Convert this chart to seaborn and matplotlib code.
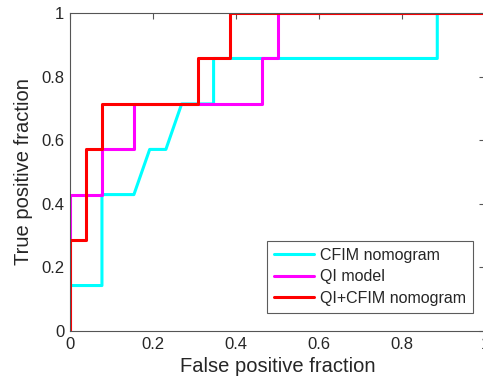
import pandas as pd
import numpy as np
import matplotlib.pyplot as plt
import seaborn as sns

# ROC curve points (false positive fraction, true positive fraction)
cfim_fpf = [0.0, 0.0, 0.077, 0.077, 0.154, 0.192, 0.231, 0.269, 0.346, 0.346, 0.885, 0.885, 1.0]
cfim_tpf = [0.0, 0.143, 0.143, 0.429, 0.429, 0.571, 0.571, 0.714, 0.714, 0.857, 0.857, 1.0, 1.0]

qi_fpf = [0.0, 0.0, 0.077, 0.077, 0.154, 0.154, 0.462, 0.462, 0.5, 0.5, 1.0]
qi_tpf = [0.0, 0.429, 0.429, 0.571, 0.571, 0.714, 0.714, 0.857, 0.857, 1.0, 1.0]

comb_fpf = [0.0, 0.0, 0.038, 0.038, 0.077, 0.077, 0.308, 0.308, 0.385, 0.385, 1.0]
comb_tpf = [0.0, 0.286, 0.286, 0.571, 0.571, 0.714, 0.714, 0.857, 0.857, 1.0, 1.0]

labels = ["CFIM nomogram", "QI model", "QI+CFIM nomogram"]
colors = ["#00ffff", "#ff00ff", "#ff0000"]

frames = []
for name, fx, ty in zip(labels, [cfim_fpf, qi_fpf, comb_fpf], [cfim_tpf, qi_tpf, comb_tpf]):
    frames.append(pd.DataFrame({"fpf": fx, "tpf": ty, "model": name, "order": np.arange(len(fx))}))
df = pd.concat(frames, ignore_index=True)

sns.set_style("white")
plt.rcParams["font.family"] = ["Liberation Sans", "DejaVu Sans"]

fig = plt.figure(figsize=(4.83, 3.87), dpi=100)
ax = fig.add_axes([70 / 483, 56 / 387, 415 / 483, 318 / 387])

sns.lineplot(
    data=df, x="fpf", y="tpf", hue="model", hue_order=labels,
    palette=colors, sort=False, estimator=None, units="model",
    linewidth=2.2, ax=ax, legend=True,
)

ax.set_xlim(0, 1)
ax.set_ylim(0, 1)
ticks = [0, 0.2, 0.4, 0.6, 0.8, 1]
ticklabels = ["0", "0.2", "0.4", "0.6", "0.8", "1"]
ax.set_xticks(ticks)
ax.set_xticklabels(ticklabels)
ax.set_yticks(ticks)
ax.set_yticklabels(ticklabels)
ax.tick_params(direction="in", length=4, width=0.8, color="#555555",
               top=True, right=True, labelsize=12, pad=4)
for s in ax.spines.values():
    s.set_color("#555555")
    s.set_linewidth(0.8)

ax.set_xlabel("False positive fraction", fontsize=14.5, labelpad=4)
ax.set_ylabel("True positive fraction", fontsize=14.5, labelpad=6)

leg = ax.legend(loc="lower right", bbox_to_anchor=(0.971, 0.057), fontsize=11.5,
                frameon=True, fancybox=False, handlelength=2.5,
                borderpad=0.45, labelspacing=0.4, handletextpad=0.35, borderaxespad=0)
leg.get_frame().set_edgecolor("#333333")
leg.get_frame().set_linewidth(0.8)
for line in leg.get_lines():
    line.set_linewidth(2.2)

fig.savefig("out.png", dpi=100)
